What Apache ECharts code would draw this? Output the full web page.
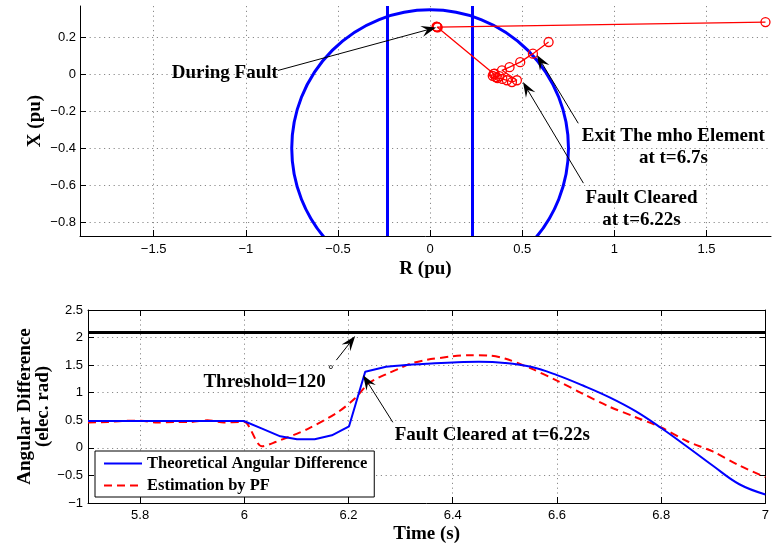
<!DOCTYPE html>
<html>
<head>
<meta charset="utf-8">
<script src="https://cdn.jsdelivr.net/npm/echarts@6/dist/echarts.min.js"></script>
<style>html,body{margin:0;padding:0;background:#fff}#c{width:772px;height:546px}</style>
</head>
<body>
<div id="c"></div>
<script>
// ---------- top plot (impedance plane) ----------
const rLim = [-1.9, 1.85];
const xLim = [-0.875, 0.37];
const rTicks = [-1.5, -1, -0.5, 0, 0.5, 1, 1.5];
const xTicks = [-0.8, -0.6, -0.4, -0.2, 0, 0.2];
const mhoCenter = [0, -0.4];
const mhoRadius = 0.75;
const blinderR = [-0.23, 0.23];
const trajR = [1.82, 0.038, 0.035, 0.041, 0.037, 0.345, 0.340, 0.356, 0.350, 0.366, 0.376, 0.392, 0.417, 0.444, 0.471, 0.390, 0.431, 0.489, 0.558, 0.643];
const trajX = [0.283, 0.256, 0.258, 0.254, 0.257, 0.003, -0.008, -0.015, 0.004, -0.020, -0.010, -0.025, -0.032, -0.042, -0.032, 0.022, 0.039, 0.066, 0.112, 0.175];

// ---------- bottom plot (angular difference) ----------
const timeLim = [5.7, 7];
const timeTicks = [5.8, 6, 6.2, 6.4, 6.6, 6.8, 7];
const angLim = [-1, 2.5];
const thresholdRad = 2.1;
const theoT = [5.7, 5.8, 5.9, 5.999, 6.034, 6.069, 6.101, 6.135, 6.168, 6.201, 6.232, 6.272, 6.3, 6.35, 6.4, 6.45, 6.5, 6.55, 6.6, 6.65, 6.7, 6.75, 6.8, 6.85, 6.9, 6.95, 7.0];
const theoV = [0.487, 0.487, 0.487, 0.487, 0.349, 0.209, 0.155, 0.155, 0.227, 0.391, 1.38, 1.47, 1.495, 1.525, 1.548, 1.56, 1.54, 1.47, 1.32, 1.13, 0.92, 0.67, 0.36, 0.02, -0.33, -0.66, -0.845];
const estT = [5.7, 5.738, 5.771, 5.802, 5.833, 5.866, 5.898, 5.929, 5.961, 5.993, 6.0, 6.034, 6.06, 6.123, 6.18, 6.212, 6.238, 6.257, 6.276, 6.3, 6.32, 6.35, 6.4, 6.43, 6.47, 6.5, 6.55, 6.6, 6.65, 6.7, 6.75, 6.8, 6.85, 6.9, 6.95, 7.0];
const estV = [0.46, 0.47, 0.49, 0.49, 0.46, 0.47, 0.47, 0.50, 0.46, 0.47, 0.47, 0.027, 0.106, 0.349, 0.651, 0.894, 1.167, 1.27, 1.35, 1.45, 1.53, 1.595, 1.66, 1.68, 1.675, 1.62, 1.44, 1.22, 0.98, 0.75, 0.56, 0.37, 0.12, -0.07, -0.32, -0.53];
const faultClearT = 6.27;   // after this the theoretical curve is smooth

const seriesNames = ['Theoretical Angular Difference', 'Estimation by PF'];

// annotations
const notes = [
  { grid: 0, lines: ['During Fault'], at: [-1.114, 0.008], from: [-0.826, 0.021], to: [0.033, 0.254] },
  { grid: 0, lines: ['Exit The mho Element', 'at t=6.7s'], at: [1.32, -0.395], from: [0.804, -0.265], to: [0.58, 0.105] },
  { grid: 0, lines: ['Fault Cleared', 'at t=6.22s'], at: [1.147, -0.73], from: [0.832, -0.589], to: [0.504, -0.042] },
  { grid: 1, lines: ['Threshold=120'], at: [6.039, 1.2], from: [6.1766, 1.591], to: [6.2128, 2.027] },
  { grid: 1, lines: ['Fault Cleared at t=6.22s'], at: [6.476, 0.227], from: [6.285, 0.464], to: [6.228, 1.318] }
];
const degreeAt = [6.166, 1.39];

const zip = (a, b) => a.map((v, i) => [v, b[i]]);
const fmt = v => String(v).replace('-', '\u2212');
const serif = 'Liberation Serif';
const sans = 'Liberation Sans';
const gridLine = { show: true, lineStyle: { color: '#8a8a8a', type: [1.2, 3.6], width: 1 } };
const tickLab = { color: '#000', fontFamily: sans, fontSize: 13, formatter: fmt };
const nameStyle = { color: '#000', fontFamily: serif, fontWeight: 'bold', fontSize: 19 };

const theoAll = zip(theoT, theoV);
const splitIdx = theoT.findIndex(t => t >= faultClearT);
const theoA = theoAll.slice(0, splitIdx + 1);
const theoB = theoAll.slice(splitIdx);

const chart = echarts.init(document.getElementById('c'), null, { renderer: 'canvas' });

const option = {
  animation: false,
  backgroundColor: '#fff',
  grid: [
    { left: 80, top: 6, width: 691, height: 230 },
    { left: 88, top: 310, width: 682, height: 193 }
  ],
  legend: {
    data: seriesNames,
    left: 95, top: 451,
    orient: 'vertical',
    backgroundColor: '#fff',
    borderColor: '#000', borderWidth: 1, borderRadius: 0,
    padding: [4, 7, 3, 8],
    itemWidth: 38, itemHeight: 14, itemGap: 5,
    itemStyle: { opacity: 0, color: 'rgba(0,0,0,0)', borderWidth: 0 },
    textStyle: { color: '#000', fontFamily: serif, fontWeight: 'bold', fontSize: 16.5 }
  },
  xAxis: [
    { type: 'value', gridIndex: 0, min: rLim[0], max: rLim[1],
      name: 'R (pu)', nameLocation: 'middle', nameGap: 24, nameTextStyle: nameStyle,
      axisLine: { onZero: false, lineStyle: { color: '#000', width: 1 } },
      axisTick: { inside: true, length: 6, customValues: rTicks, lineStyle: { color: '#000' } },
      axisLabel: Object.assign({ customValues: rTicks, margin: 7 }, tickLab),
      splitLine: gridLine },
    { type: 'value', gridIndex: 1, min: timeLim[0], max: timeLim[1],
      name: 'Time (s)', nameLocation: 'middle', nameGap: 22, nameTextStyle: nameStyle,
      axisLine: { onZero: false, lineStyle: { color: '#000', width: 1 } },
      axisTick: { inside: true, length: 6, customValues: timeTicks, lineStyle: { color: '#000' } },
      axisLabel: Object.assign({ customValues: timeTicks, margin: 6 }, tickLab),
      splitLine: gridLine },
    { type: 'value', gridIndex: 1, position: 'top', min: timeLim[0], max: timeLim[1],
      axisLine: { onZero: false, lineStyle: { color: '#000', width: 1 } },
      axisTick: { inside: true, length: 6, customValues: timeTicks, lineStyle: { color: '#000' } },
      axisLabel: { show: false }, splitLine: { show: false } }
  ],
  yAxis: [
    { type: 'value', gridIndex: 0, min: xLim[0], max: xLim[1],
      name: 'X (pu)', nameLocation: 'middle', nameGap: 35, nameMoveOverlap: false, nameTextStyle: nameStyle,
      axisLine: { show: true, onZero: false, lineStyle: { color: '#000', width: 1 } },
      axisTick: { show: true, inside: true, length: 6, customValues: xTicks, lineStyle: { color: '#000' } },
      axisLabel: Object.assign({ customValues: xTicks, margin: 4 }, tickLab),
      splitLine: gridLine },
    { type: 'value', gridIndex: 1, min: angLim[0], max: angLim[1], interval: 0.5,
      name: 'Angular Difference\n(elec. rad)', nameLocation: 'middle', nameGap: 36, nameMoveOverlap: false,
      nameTextStyle: Object.assign({ lineHeight: 18 }, nameStyle),
      axisLine: { show: true, onZero: false, lineStyle: { color: '#000', width: 1 } },
      axisTick: { show: true, inside: true, length: 6, lineStyle: { color: '#000' } },
      axisLabel: Object.assign({ margin: 5 }, tickLab),
      splitLine: gridLine },
    { type: 'value', gridIndex: 1, position: 'right', min: angLim[0], max: angLim[1], interval: 0.5,
      axisLine: { show: true, onZero: false, lineStyle: { color: '#000', width: 1 } },
      axisTick: { show: true, inside: true, length: 6, lineStyle: { color: '#000' } },
      axisLabel: { show: false }, splitLine: { show: false } }
  ],
  series: [
    { type: 'custom', name: 'mho', xAxisIndex: 0, yAxisIndex: 0, clip: true, silent: true,
      data: [[mhoCenter[0], mhoCenter[1], mhoRadius]],
      renderItem: function (params, api) {
        const c = api.coord([api.value(0), api.value(1)]);
        const s = api.size([api.value(2), api.value(2)]);
        return { type: 'circle', shape: { cx: c[0], cy: c[1], r: (s[0] + s[1]) / 2 },
                 style: { fill: null, stroke: '#0000ff', lineWidth: 3 } };
      },
      markLine: { silent: true, symbol: 'none', animation: false,
        label: { show: false },
        lineStyle: { color: '#0000ff', width: 3, type: 'solid' },
        data: blinderR.map(v => ({ xAxis: v })) }
    },
    { type: 'line', name: 'trajectory', xAxisIndex: 0, yAxisIndex: 0,
      data: zip(trajR, trajX), symbol: 'circle', symbolSize: 9,
      lineStyle: { color: '#ff0000', width: 1.3 },
      itemStyle: { color: 'rgba(0,0,0,0)', borderColor: '#ff0000', borderWidth: 1.3 },
      z: 5 },
    { type: 'line', name: seriesNames[0], xAxisIndex: 1, yAxisIndex: 1,
      data: theoA, symbol: 'none', smooth: false,
      lineStyle: { color: '#0000ff', width: 2 }, itemStyle: { color: '#0000ff' },
      markLine: { silent: true, symbol: 'none', animation: false,
        label: { show: false },
        lineStyle: { color: '#000', width: 3, type: 'solid' },
        data: [{ yAxis: thresholdRad }] },
      z: 4 },
    { type: 'line', name: seriesNames[0], xAxisIndex: 1, yAxisIndex: 1,
      data: theoB, symbol: 'none', smooth: 0.4,
      lineStyle: { color: '#0000ff', width: 2 }, itemStyle: { color: '#0000ff' },
      z: 4 },
    { type: 'line', name: seriesNames[1], xAxisIndex: 1, yAxisIndex: 1,
      data: zip(estT, estV), symbol: 'none', smooth: 0.3,
      lineStyle: { color: '#ff0000', width: 2, type: [8, 5] }, itemStyle: { color: '#ff0000' },
      z: 3 }
  ]
};
chart.setOption(option);

function px(grid, p) { return chart.convertToPixel({ gridIndex: grid }, p); }
const els = [];
notes.forEach(n => {
  const a = px(n.grid, n.from), b = px(n.grid, n.to);
  const dx = b[0] - a[0], dy = b[1] - a[1], len = Math.hypot(dx, dy);
  const ux = dx / len, uy = dy / len, nx = -uy, ny = ux;
  const L = 15, W = 5.5, N = 0.62 * L;
  els.push({ type: 'line', z: 20, shape: { x1: a[0], y1: a[1], x2: b[0] - N * ux, y2: b[1] - N * uy },
             style: { stroke: '#000', lineWidth: 1 } });
  els.push({ type: 'polygon', z: 20, shape: { points: [
      [b[0], b[1]],
      [b[0] - L * ux + W * nx, b[1] - L * uy + W * ny],
      [b[0] - N * ux, b[1] - N * uy],
      [b[0] - L * ux - W * nx, b[1] - L * uy - W * ny]] },
    style: { fill: '#000' } });
  const t = px(n.grid, n.at);
  els.push({ type: 'text', z: 21, x: t[0], y: t[1],
    style: { text: n.lines.join('\n'), fill: '#000', font: 'bold 19px "Liberation Serif"',
             lineHeight: 22, align: 'center', verticalAlign: 'middle' } });
});
const d = px(1, degreeAt);
els.push({ type: 'text', z: 21, x: d[0], y: d[1],
  style: { text: '\u00b0', fill: '#000', font: '14px "Liberation Sans"', align: 'center', verticalAlign: 'middle' } });
chart.setOption({ graphic: els });
</script>
</body>
</html>
